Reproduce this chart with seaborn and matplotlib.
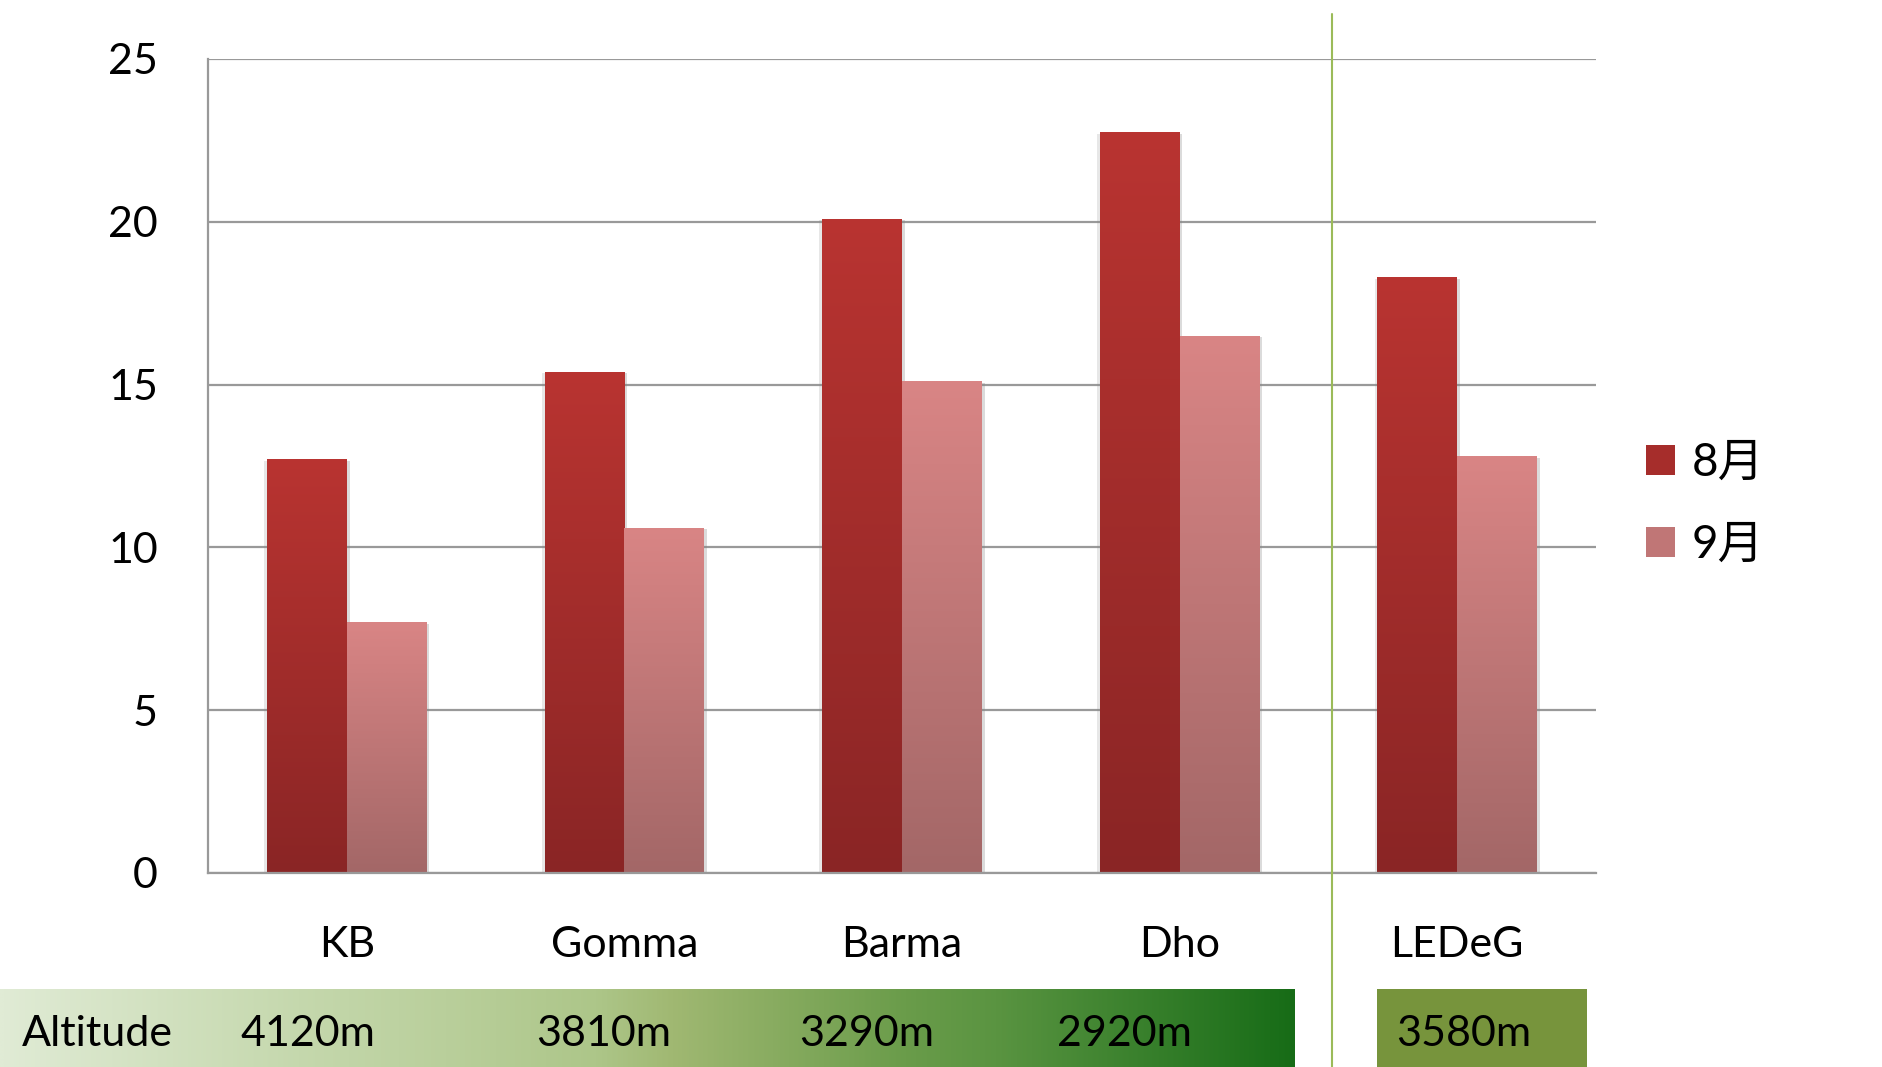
import numpy as np
import pandas as pd
import matplotlib
matplotlib.use("Agg")
import matplotlib.pyplot as plt
import matplotlib.patheffects as pe
import seaborn as sns
from matplotlib.colors import LinearSegmentedColormap
from matplotlib.patches import Patch, Rectangle
from matplotlib.lines import Line2D

# ---- data -------------------------------------------------------------
sites = ["KB", "Gomma", "Barma", "Dho", "LEDeG"]
aug_values = [12.7, 15.4, 20.1, 22.75, 18.3]
sep_values = [7.7, 10.6, 15.1, 16.5, 12.8]
months = ["8月", "9月"]
altitude_title = "Altitude"
altitudes = ["4120m", "3810m", "3290m", "2920m"]
ledeg_altitude = "3580m"
yticks = [0, 5, 10, 15, 20, 25]

df = pd.DataFrame({
    "site": sites * 2,
    "month": [months[0]] * len(sites) + [months[1]] * len(sites),
    "value": aug_values + sep_values,
})

# ---- style ------------------------------------------------------------
sns.set_theme(style="white")
plt.rcParams["font.family"] = ["Lato", "Noto Sans CJK JP", "DejaVu Sans"]
plt.rcParams["text.color"] = "black"
FS = 31
GRID = "#999999"

W, H = 1883, 1067
fig = plt.figure(figsize=(W / 100, H / 100), dpi=100)
ax = fig.add_axes([208 / W, 1 - 873 / H, (1596 - 208) / W, (873 - 59) / H])

# top / bottom colours of each month's vertical gradient
bar_grad = {months[0]: ("#b93431", "#8a2525"),
            months[1]: ("#d98585", "#a36767")}

sns.barplot(data=df, x="site", y="value", hue="month", order=sites,
            hue_order=months, palette={m: bar_grad[m][0] for m in months},
            width=0.575, saturation=1, errorbar=None, linewidth=0,
            legend=False, ax=ax)

# fill every bar with a vertical gradient, plus a soft shadow
for cont, m in zip(ax.containers, months):
    top, bottom = bar_grad[m]
    cmap = LinearSegmentedColormap.from_list(m, [bottom, top])
    for bar in cont:
        x0, w, h = bar.get_x(), bar.get_width(), bar.get_height()
        bar.set_path_effects([
            pe.SimplePatchShadow(offset=(2, -1), shadow_rgbFace="#888888", alpha=0.3),
            pe.SimplePatchShadow(offset=(-2, -1), shadow_rgbFace="#888888", alpha=0.2),
            pe.Normal()])
        img = ax.imshow(np.linspace(0, 1, 256).reshape(-1, 1), extent=[x0, x0 + w, 0, h],
                        origin="lower", aspect="auto", cmap=cmap,
                        interpolation="bilinear", zorder=bar.get_zorder() + 0.1)
        img.set_clip_path(bar)

ax.set_xlim(-0.5, len(sites) - 0.5)
ax.set_ylim(0, 25)
ax.set_yticks(yticks)
ax.set_xlabel("")
ax.set_ylabel("")

ax.set_axisbelow(True)
ax.yaxis.grid(True, color=GRID, linewidth=1.6)
ax.xaxis.grid(False)
for side in ["top", "right"]:
    ax.spines[side].set_visible(False)
for side in ["left", "bottom"]:
    ax.spines[side].set_color(GRID)
    ax.spines[side].set_linewidth(1.6)

ax.tick_params(axis="both", length=0, labelsize=FS, colors="black")
ax.tick_params(axis="x", pad=60.5)
ax.tick_params(axis="y", pad=36)
for lbl in ax.get_xticklabels():
    lbl.set_verticalalignment("baseline")

# legend
handles = [Patch(facecolor="#a62d2b", edgecolor="none"),
           Patch(facecolor="#c07676", edgecolor="none")]
fig.legend(handles, months, loc="center left", bbox_to_anchor=(1646 / W, 1 - 504 / H),
           frameon=False, fontsize=33, handlelength=0.64, handleheight=0.64,
           handletextpad=0.35, labelspacing=0.88, borderpad=0, borderaxespad=0)

# separator between the transect sites and LEDeG
fig.add_artist(Line2D([1331.7 / W] * 2, [0, 1 - 14 / H], transform=fig.transFigure,
                      color="#9bbb59", linewidth=1.5))

# altitude band
band_cmap = LinearSegmentedColormap.from_list("band", [
    (0.00, "#e0ebd5"), (0.23, "#c5d8ad"), (0.46, "#adc689"), (0.52, "#a0b872"),
    (0.70, "#6a9c4a"), (0.77, "#5a9441"), (1.00, "#176c17")])
bax = fig.add_axes([0, 0, 1295 / W, (1067 - 989) / H])
bax.imshow(np.linspace(0, 1, 512).reshape(1, -1), cmap=band_cmap, aspect="auto",
           extent=[0, 1, 0, 1], interpolation="bilinear")
bax.axis("off")
fig.patches.append(Rectangle((1377 / W, 0), (1587 - 1377) / W, (1067 - 989) / H,
                             transform=fig.transFigure, facecolor="#77943c",
                             edgecolor="none"))

base_y = 1 - 1046 / H
fig.text(22 / W, base_y, altitude_title, fontsize=FS, ha="left", va="baseline")
for label, cx in zip(altitudes, [308, 604, 867, 1124]):
    fig.text(cx / W, base_y, label, fontsize=FS, ha="center", va="baseline")
fig.text(1463.5 / W, base_y, ledeg_altitude, fontsize=FS, ha="center", va="baseline")

fig.savefig("out.png", dpi=100)
